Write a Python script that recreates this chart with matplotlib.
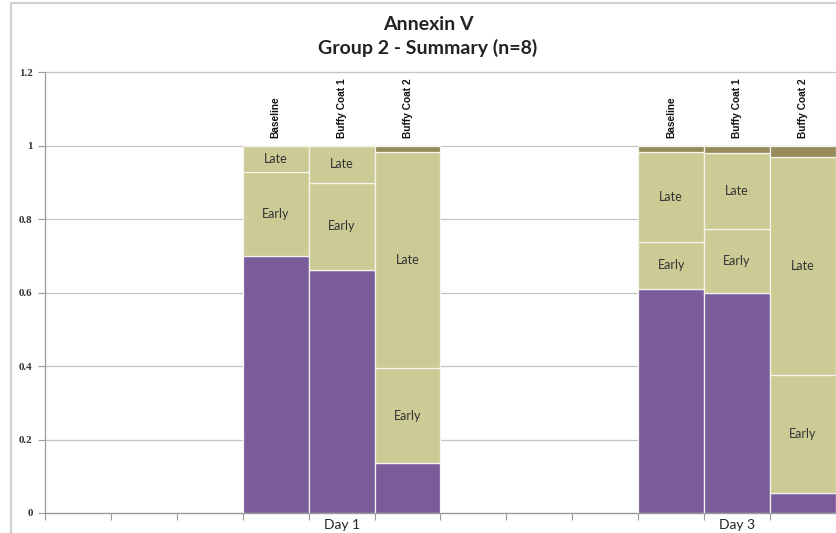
import matplotlib
matplotlib.use("Agg")
import numpy as np
import matplotlib.pyplot as plt
from matplotlib.lines import Line2D

# values (fraction of cells)
days = ["Day 1", "Day 3"]
samples = ["Baseline", "Buffy Coat 1", "Buffy Coat 2"]
live = [0.700, 0.663, 0.136, 0.610, 0.598, 0.054]
early = [0.229, 0.237, 0.259, 0.129, 0.177, 0.322]
late = [0.071, 0.100, 0.588, 0.245, 0.207, 0.595]
dead = [0.000, 0.000, 0.017, 0.016, 0.018, 0.029]
yticks = [0, 0.2, 0.4, 0.6, 0.8, 1.0, 1.2]

PURPLE = "#7B5C9A"
KHAKI = "#CCCB95"
DARK = "#978B5B"
GRID = "#C4C4C4"
label_font = ["Lato", "DejaVu Sans"]

fig = plt.figure(figsize=(8.36, 5.33), dpi=100)
ax = fig.add_axes([45 / 836, 20 / 533, 791 / 836, 440.5 / 533])

# 12 category slots, each group starts after three empty slots
n_slots = 12
group_start = [3, 9]
x = np.array([g + i + 0.5 for g in group_start for i in range(len(samples))])

live = np.array(live)
early = np.array(early)
late = np.array(late)
dead = np.array(dead)

kw = dict(width=1.0, edgecolor="#F4F4EC", linewidth=0.9, zorder=3)
ax.bar(x, live, color=PURPLE, **kw)
b_early = ax.bar(x, early, bottom=live, color=KHAKI, **kw)
b_late = ax.bar(x, late, bottom=live + early, color=KHAKI, **kw)
ax.bar(x, dead, bottom=live + early + late, color=DARK, **kw)

ax.bar_label(b_early, labels=["Early"] * len(x), label_type="center",
             fontsize=9, color="#333333", family=label_font)
ax.bar_label(b_late, labels=["Late"] * len(x), label_type="center",
             fontsize=9, color="#333333", family=label_font)

# sample names above each bar
for xi, name in zip(x, samples * len(days)):
    ax.text(xi, 1.022, name, rotation=90, ha="center", va="bottom",
            fontsize=7.3, fontweight="bold", family="Liberation Sans", color="#111111")

ax.set_xlim(0, n_slots)
ax.set_ylim(0, 1.2)
ax.set_yticks(yticks)
ax.set_yticklabels([f"{v:g}" for v in yticks], family="Liberation Serif",
                   fontweight="bold", fontsize=7.8, color="#333333")
ax.yaxis.grid(True, color=GRID, linewidth=0.9, zorder=0)
for gl in ax.get_ygridlines():
    gl.set_clip_on(False)
ax.set_axisbelow(True)

ax.set_xticks(np.arange(0, n_slots + 1))
ax.set_xticklabels([])
ax.set_xticks([g + len(samples) / 2 for g in group_start], minor=True)
ax.set_xticklabels(days, minor=True, family=label_font, fontsize=10, color="#222222")
ax.tick_params(axis="x", which="major", length=5, color="#9A9A9A", direction="out")
ax.tick_params(axis="x", which="minor", length=0, pad=4)
ax.tick_params(axis="y", length=5, color="#9A9A9A", pad=4)

for s in ["top", "right"]:
    ax.spines[s].set_visible(False)
for s in ["left", "bottom"]:
    ax.spines[s].set_color("#9A9A9A")
    ax.spines[s].set_linewidth(0.9)

# title
fig.text(428 / 836, 1 - 25 / 533, "Annexin V", ha="center", va="center",
         fontsize=14, fontweight="bold", family=label_font, color="#222222")
fig.text(428 / 836, 1 - 48 / 533, "Group 2 - Summary (n=8)", ha="center", va="center",
         fontsize=14, fontweight="bold", family=label_font, color="#222222")

# chart frame (cut off on right and bottom)
fig.add_artist(Line2D([11 / 836, 11 / 836], [0, 1 - 3 / 533], color="#D2D2D2", lw=1.6))
fig.add_artist(Line2D([11 / 836, 1], [1 - 3 / 533, 1 - 3 / 533], color="#D2D2D2", lw=1.6))

fig.savefig("out.png", dpi=100)
